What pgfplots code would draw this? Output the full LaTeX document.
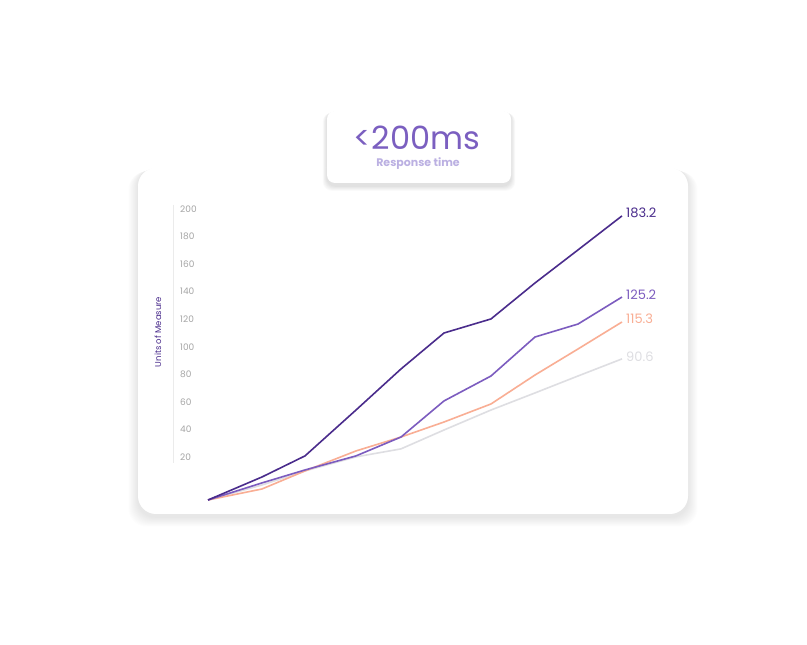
\documentclass[border=0pt]{standalone}
\usepackage{pgfplots}
\pgfplotsset{compat=1.18}
\usepackage{fontspec}
\setmainfont{Poppins}
\definecolor{dpurple}{HTML}{4A2C8C}
\definecolor{mpurple}{HTML}{7C5CBF}
\definecolor{salmon}{HTML}{F9AE94}
\definecolor{lgray}{HTML}{DEDEE2}
\definecolor{ticktext}{HTML}{A5A5A5}
\definecolor{titlepurple}{HTML}{7B5FC0}
\definecolor{subpurple}{HTML}{BBB0E2}
\pgfplotstableread{
x dark medium orange gray
208 -11.2 -11.2 -11.2 -11.2
262 5.5 1.2 -3.2 -0.3
305 20.8 10.6 9.9 9.9
356 54.1 20.8 24.4 20.1
401 83.9 34.5 34.5 25.9
444 110.0 60.7 45.4 39.6
491 120.2 78.8 58.5 54.1
535 146.3 107.1 79.5 66.5
578 170.3 116.5 98.4 78.8
622 195.0 136.1 118.0 91.2
}\datatable
\begin{document}
\begin{tikzpicture}[x=1pt,y=1pt]
\useasboundingbox (0,0) rectangle (807,645);
% card shadow
\foreach \i in {1,...,12}{
  \fill[black,opacity=0.006,rounded corners=18pt] (138-\i*0.8,131-3-\i*0.8) rectangle (688+\i*0.8,477-\i*0.3);
}
\fill[white,rounded corners=18pt] (138,131) rectangle (688,477);
% title box shadow
\foreach \i in {1,...,6}{
  \fill[black,opacity=0.018,rounded corners=9pt] (327-\i*0.7,462-3-\i*0.8) rectangle (511+\i*0.7,534-\i*0.3);
}
\fill[white,rounded corners=8pt] (327,462) rectangle (511,534);
\node[text=titlepurple,font=\fontsize{32}{33}\selectfont,inner sep=0pt,anchor=base,text depth=0pt,text height=23pt] at (417,495) {<200ms};
\node[text=subpurple,font=\fontsize{11}{12}\selectfont\bfseries,inner sep=0pt,anchor=base,text height=8pt] at (418,478) {Response time};
% y axis line
\draw[draw=black!8,line width=0.8pt] (173,440) -- (173,182);
\node[rotate=90,text=dpurple,font=\fontsize{8.5}{9}\selectfont,inner sep=0pt] at (158,313) {Units of Measure};
\begin{axis}[
  at={(208pt,143.9pt)}, anchor=south west,
  scale only axis, width=414pt, height=292.1pt,
  xmin=208, xmax=622, ymin=-12, ymax=200,
  axis line style={draw=none}, tick style={draw=none},
  xtick=\empty, ytick={20,40,...,200},
  yticklabel style={anchor=west, inner sep=0pt, xshift=-28pt, text=ticktext, font=\fontsize{9}{10}\selectfont},
  /pgf/number format/assume math mode=true,
  clip=false,
]
\addplot[draw=lgray,line width=1.6pt] table[x=x,y=gray] {\datatable};
\addplot[draw=salmon,line width=1.6pt] table[x=x,y=orange] {\datatable};
\addplot[draw=mpurple,line width=1.6pt] table[x=x,y=medium] {\datatable};
\addplot[draw=dpurple,line width=1.6pt] table[x=x,y=dark] {\datatable};
\node[anchor=west,inner sep=0pt,xshift=4pt,yshift=3pt,text=dpurple,font=\fontsize{13}{14}\selectfont] at (axis cs:622,195.0) {183.2};
\node[anchor=west,inner sep=0pt,xshift=4pt,yshift=2pt,text=mpurple,font=\fontsize{13}{14}\selectfont] at (axis cs:622,136.1) {125.2};
\node[anchor=west,inner sep=0pt,xshift=4pt,yshift=3pt,text=salmon,font=\fontsize{13}{14}\selectfont] at (axis cs:622,118.0) {115.3};
\node[anchor=west,inner sep=0pt,xshift=4pt,yshift=2pt,text=lgray,font=\fontsize{13}{14}\selectfont] at (axis cs:622,91.2) {90.6};
\end{axis}
\end{tikzpicture}
\end{document}
